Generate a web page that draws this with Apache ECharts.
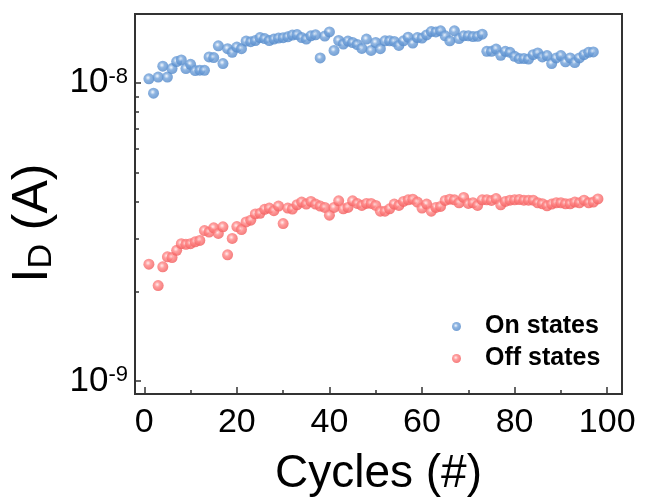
<!DOCTYPE html>
<html><head><meta charset="utf-8">
<script src="https://cdn.jsdelivr.net/npm/echarts@6/dist/echarts.min.js"></script>
<style>html,body{margin:0;padding:0;background:#fff}#c{width:647px;height:502px}</style>
</head><body><div id="c"></div>
<script>
const onCycles = [1,2,3,4,5,6,7,8,9,10,11,12,13,14,15,16,17,18,19,20,21,22,23,24,25,26,27,28,29,30,31,32,33,34,35,36,37,38,39,40,41,42,43,44,45,46,47,48,49,50,51,52,53,54,55,56,57,58,59,60,61,62,63,64,65,66,67,68,69,70,71,72,73,74,75,76,77,78,79,80,81,82,83,84,85,86,87,88,89,90,91,92,93,94,95,96,97];
const onValues = [1.03e-8,0.922e-8,1.044e-8,1.135e-8,1.044e-8,1.115e-8,1.177e-8,1.192e-8,1.115e-8,1.152e-8,1.098e-8,1.101e-8,1.10e-8,1.219e-8,1.213e-8,1.329e-8,1.159e-8,1.299e-8,1.263e-8,1.316e-8,1.299e-8,1.378e-8,1.371e-8,1.384e-8,1.416e-8,1.405e-8,1.384e-8,1.399e-8,1.41e-8,1.415e-8,1.424e-8,1.443e-8,1.449e-8,1.416e-8,1.399e-8,1.435e-8,1.446e-8,1.210e-8,1.432e-8,1.479e-8,1.282e-8,1.384e-8,1.347e-8,1.378e-8,1.363e-8,1.342e-8,1.302e-8,1.399e-8,1.282e-8,1.363e-8,1.299e-8,1.381e-8,1.381e-8,1.374e-8,1.332e-8,1.381e-8,1.420e-8,1.357e-8,1.416e-8,1.410e-8,1.445e-8,1.483e-8,1.479e-8,1.491e-8,1.435e-8,1.381e-8,1.491e-8,1.405e-8,1.435e-8,1.435e-8,1.427e-8,1.43e-8,1.453e-8,1.273e-8,1.273e-8,1.296e-8,1.235e-8,1.273e-8,1.263e-8,1.225e-8,1.204e-8,1.204e-8,1.20e-8,1.241e-8,1.257e-8,1.219e-8,1.232e-8,1.159e-8,1.210e-8,1.232e-8,1.174e-8,1.210e-8,1.168e-8,1.210e-8,1.241e-8,1.263e-8,1.267e-8];
const offCycles = [1,3,4,5,6,7,8,9,10,11,12,13,14,15,16,17,18,19,20,21,22,23,24,25,26,27,28,29,30,31,32,33,34,35,36,37,38,39,40,41,42,43,44,45,46,47,48,49,50,51,52,53,54,55,56,57,58,59,60,61,62,63,64,65,66,67,68,69,70,71,72,73,74,75,76,77,78,79,80,81,82,83,84,85,86,87,88,89,90,91,92,93,94,95,96,97,98];
const offValues = [2.466e-9,2.091e-9,2.417e-9,2.610e-9,2.596e-9,2.745e-9,2.888e-9,2.873e-9,2.888e-9,2.93e-9,2.962e-9,3.196e-9,3.158e-9,3.264e-9,3.127e-9,3.290e-9,2.650e-9,3.008e-9,3.297e-9,3.221e-9,3.416e-9,3.461e-9,3.633e-9,3.650e-9,3.765e-9,3.802e-9,3.725e-9,3.86e-9,3.373e-9,3.80e-9,3.774e-9,3.90e-9,3.98e-9,3.92e-9,4.00e-9,3.92e-9,3.86e-9,3.82e-9,3.597e-9,3.82e-9,4.02e-9,3.78e-9,3.82e-9,4.02e-9,3.94e-9,3.88e-9,3.94e-9,3.94e-9,3.88e-9,3.71e-9,3.71e-9,3.78e-9,3.92e-9,3.88e-9,4.00e-9,4.05e-9,4.07e-9,3.98e-9,3.80e-9,3.92e-9,3.71e-9,3.82e-9,3.85e-9,4.03e-9,4.07e-9,4.05e-9,3.96e-9,4.125e-9,3.94e-9,3.96e-9,3.88e-9,4.05e-9,4.05e-9,4.03e-9,4.09e-9,3.90e-9,4.00e-9,4.04e-9,4.05e-9,4.06e-9,4.04e-9,4.04e-9,4.04e-9,3.96e-9,3.93e-9,3.87e-9,3.92e-9,3.96e-9,3.96e-9,3.93e-9,3.93e-9,3.98e-9,3.96e-9,4.04e-9,3.96e-9,3.98e-9,4.08e-9];
const xMajorTicks = [0,20,40,60,80,100];
const xMinorTicks = [10,30,50,70,90];
const yMajorTicks = [1e-9,1e-8];
const yMinorTicks = [2e-9,3e-9,4e-9,5e-9,6e-9,7e-9,8e-9,9e-9];

const chart = echarts.init(document.getElementById('c'));
const ff = 'Liberation Sans, Arial, sans-serif';
function ball(c0,c1,c2){
  return {type:'radial',x:0.42,y:0.4,r:0.6,colorStops:[{offset:0,color:c0},{offset:0.4,color:c1},{offset:1,color:c2}]};
}
const blue = ball('#f2f7fd','#72a2da','#5288c9');
const red = ball('#ffeaea','#ff8585','#f25c5c');
const axisColor = '#333';
chart.setOption({
  animation:false,
  grid:{left:135,right:25,top:14,bottom:104,show:true,borderColor:axisColor,borderWidth:2,backgroundColor:'transparent'},
  legend:{
    orient:'vertical',left:447,top:309,itemWidth:9,itemHeight:9,itemGap:7,icon:'circle',
    textStyle:{fontFamily:ff,fontSize:25,fontWeight:'bold',color:'#000',padding:[0,0,0,19],lineHeight:24},
    data:['On states','Off states']
  },
  xAxis:[{
    type:'value',min:-2,max:103.2,
    name:'Cycles (#)',nameLocation:'middle',nameGap:57,
    nameTextStyle:{fontFamily:ff,fontSize:46,color:'#000'},
    axisLine:{show:false,onZero:false},splitLine:{show:false},
    axisTick:{show:true,inside:true,length:7,customValues:xMajorTicks,lineStyle:{color:axisColor,width:1.5}},
    axisLabel:{customValues:xMajorTicks,fontFamily:ff,fontSize:34,color:'#000',margin:12}
  },{
    type:'value',min:-2,max:103.2,position:'bottom',
    axisLine:{show:false,onZero:false},splitLine:{show:false},axisLabel:{show:false},
    axisTick:{show:true,inside:true,length:4,customValues:xMinorTicks,lineStyle:{color:axisColor,width:1.5}}
  }],
  yAxis:[{
    type:'log',min:9.06e-10,max:1.698e-8,
    name:'{i|I}{d|D}{i| (A)}',nameLocation:'middle',nameGap:70,
    nameTextStyle:{fontFamily:ff,color:'#000',padding:[0,38,0,0],
      rich:{i:{fontFamily:ff,fontSize:50,color:'#000'},d:{fontFamily:ff,fontSize:34,color:'#000',verticalAlign:'bottom'}}},
    axisLine:{show:false,onZero:false},splitLine:{show:false},minorTick:{show:false},
    axisTick:{show:true,inside:true,length:6,customValues:yMajorTicks,lineStyle:{color:axisColor,width:1.5}},
    axisLabel:{customValues:yMajorTicks,margin:7,
      formatter:function(v){return '{b|10}{s|'+Math.round(Math.log10(v))+'}';},
      rich:{b:{fontFamily:ff,fontSize:35,color:'#000',lineHeight:34},s:{fontFamily:ff,fontSize:22,color:'#000',verticalAlign:'top',lineHeight:22}}}
  },{
    type:'log',min:9.06e-10,max:1.698e-8,position:'left',
    axisLine:{show:false,onZero:false},splitLine:{show:false},axisLabel:{show:false},
    axisTick:{show:true,inside:true,length:4,customValues:yMinorTicks,lineStyle:{color:axisColor,width:1.5}}
  }],
  series:[{
    name:'On states',type:'scatter',symbol:'circle',symbolSize:11,
    itemStyle:{color:blue},
    data:onCycles.map((c,i)=>[c,onValues[i]])
  },{
    name:'Off states',type:'scatter',symbol:'circle',symbolSize:11,
    itemStyle:{color:red},
    data:offCycles.map((c,i)=>[c,offValues[i]])
  }]
});
</script></body></html>
